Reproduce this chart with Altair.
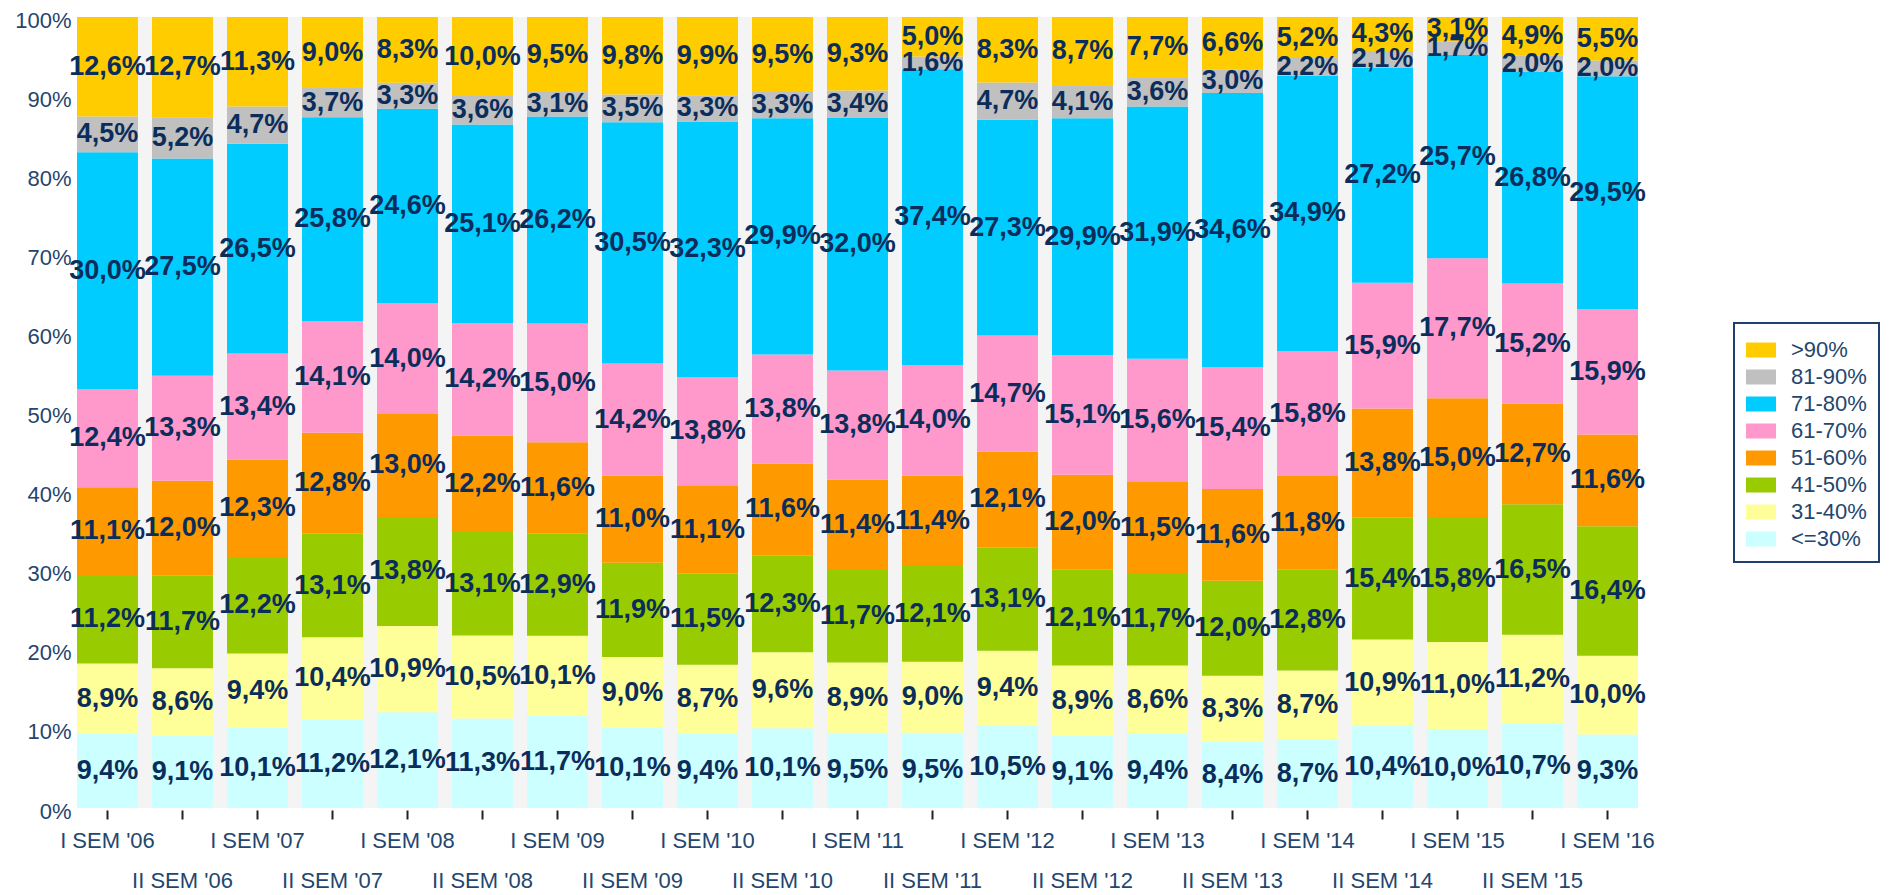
import altair as alt
import pandas as pd

periods = ["I SEM '06", "II SEM '06", "I SEM '07", "II SEM '07", "I SEM '08", "II SEM '08",
           "I SEM '09", "II SEM '09", "I SEM '10", "II SEM '10", "I SEM '11", "II SEM '11",
           "I SEM '12", "II SEM '12", "I SEM '13", "II SEM '13", "I SEM '14", "II SEM '14",
           "I SEM '15", "II SEM '15", "I SEM '16"]

# classes, bottom to top
classes = ["<=30%", "31-40%", "41-50%", "51-60%", "61-70%", "71-80%", "81-90%", ">90%"]
colors = ["#ccffff", "#ffff99", "#99cc00", "#ff9900", "#ff99cc", "#00ccff", "#c0c0c0", "#ffcc00"]

le30 = [9.4, 9.1, 10.1, 11.2, 12.1, 11.3, 11.7, 10.1, 9.4, 10.1, 9.5, 9.5, 10.5, 9.1, 9.4, 8.4, 8.7, 10.4, 10.0, 10.7, 9.3]
c31_40 = [8.9, 8.6, 9.4, 10.4, 10.9, 10.5, 10.1, 9.0, 8.7, 9.6, 8.9, 9.0, 9.4, 8.9, 8.6, 8.3, 8.7, 10.9, 11.0, 11.2, 10.0]
c41_50 = [11.2, 11.7, 12.2, 13.1, 13.8, 13.1, 12.9, 11.9, 11.5, 12.3, 11.7, 12.1, 13.1, 12.1, 11.7, 12.0, 12.8, 15.4, 15.8, 16.5, 16.4]
c51_60 = [11.1, 12.0, 12.3, 12.8, 13.0, 12.2, 11.6, 11.0, 11.1, 11.6, 11.4, 11.4, 12.1, 12.0, 11.5, 11.6, 11.8, 13.8, 15.0, 12.7, 11.6]
c61_70 = [12.4, 13.3, 13.4, 14.1, 14.0, 14.2, 15.0, 14.2, 13.8, 13.8, 13.8, 14.0, 14.7, 15.1, 15.6, 15.4, 15.8, 15.9, 17.7, 15.2, 15.9]
c71_80 = [30.0, 27.5, 26.5, 25.8, 24.6, 25.1, 26.2, 30.5, 32.3, 29.9, 32.0, 37.4, 27.3, 29.9, 31.9, 34.6, 34.9, 27.2, 25.7, 26.8, 29.5]
c81_90 = [4.5, 5.2, 4.7, 3.7, 3.3, 3.6, 3.1, 3.5, 3.3, 3.3, 3.4, 1.6, 4.7, 4.1, 3.6, 3.0, 2.2, 2.1, 1.7, 2.0, 2.0]
gt90 = [12.6, 12.7, 11.3, 9.0, 8.3, 10.0, 9.5, 9.8, 9.9, 9.5, 9.3, 5.0, 8.3, 8.7, 7.7, 6.6, 5.2, 4.3, 3.1, 4.9, 5.5]

series = [le30, c31_40, c41_50, c51_60, c61_70, c71_80, c81_90, gt90]

rows = []
for ci, (cls, vals) in enumerate(zip(classes, series)):
    for pi, p in enumerate(periods):
        rows.append({"period": p, "cls": cls, "ord": ci, "v": vals[pi]})
df = pd.DataFrame(rows)

FONT = "Liberation Sans, Arial, sans-serif"
NAVY = "#24466e"
LABEL = "#0b2d5b"

legend_order = classes[::-1]
legend_colors = colors[::-1]

base = alt.Chart(df).transform_joinaggregate(
    total="sum(v)", groupby=["period"]
).transform_stack(
    stack="v", as_=["y0", "y1"], groupby=["period"], sort=[alt.SortField("ord", order="ascending")]
).transform_calculate(
    y0n="datum.y0 / datum.total",
    y1n="datum.y1 / datum.total",
    ym="(datum.y0 + datum.y1) / 2 / datum.total",
    lbl="replace(format(datum.v, '.1f'), '.', ',') + '%'",
)

x_enc = alt.X(
    "period:N",
    sort=periods,
    scale=alt.Scale(paddingInner=0.187, paddingOuter=0),
    axis=alt.Axis(
        title=None,
        labelAngle=0,
        domain=False,
        ticks=True,
        tickSize=9,
        tickWidth=2,
        tickColor="#222222",
        offset=2,
        labelPadding=11,
        labelFont=FONT,
        labelFontSize=22,
        labelColor=NAVY,
        labelOverlap=False,
        labelBound=False,
        labelFlush=False,
        labelLineHeight=40,
        labelExpr="indexof(datum.label, 'II') == 0 ? ['', datum.label] : datum.label",
    ),
)

bars = base.mark_bar(strokeWidth=0).encode(
    x=x_enc,
    y=alt.Y(
        "y0n:Q",
        scale=alt.Scale(domain=[0, 1], nice=False),
        axis=alt.Axis(
            title=None,
            format=".0%",
            values=[0, 0.1, 0.2, 0.3, 0.4, 0.5, 0.6, 0.7, 0.8, 0.9, 1.0],
            domain=False,
            ticks=False,
            grid=False,
            labelPadding=6,
            labelOffset=3,
            labelFont=FONT,
            labelFontSize=22,
            labelColor=NAVY,
        ),
    ),
    y2="y1n:Q",
    color=alt.Color(
        "cls:N",
        scale=alt.Scale(domain=legend_order, range=legend_colors),
        legend=alt.Legend(
            title=None,
            orient="none",
            legendX=1657,
            legendY=306,
            padding=12,
            fillColor="white",
            strokeColor="#1f3f6f",
            symbolType="M-1,-0.5H1V0.5H-1Z",
            symbolSize=900,
            symbolStrokeWidth=0,
            symbolOpacity=1,
            rowPadding=1,
            labelOffset=15,
            labelFont=FONT,
            labelFontSize=22,
            labelColor=NAVY,
        ),
    ),
)

texts = base.mark_text(
    font=FONT, fontSize=27, fontWeight="bold", color=LABEL, baseline="middle", align="center"
).encode(
    x=alt.X("period:N", sort=periods),
    y=alt.Y("ym:Q"),
    text="lbl:N",
)

chart = alt.layer(bars, texts).properties(
    width=1561,
    height=791,
    autosize=alt.AutoSizeParams(type="none"),
    padding={"left": 69, "top": 9, "right": 250, "bottom": 85},
    background="white",
).configure_view(fill="#f4f4f4", strokeWidth=0).configure_legend(strokeWidth=2)

chart.save("out.html", embed_options={"renderer": "svg", "actions": False})
